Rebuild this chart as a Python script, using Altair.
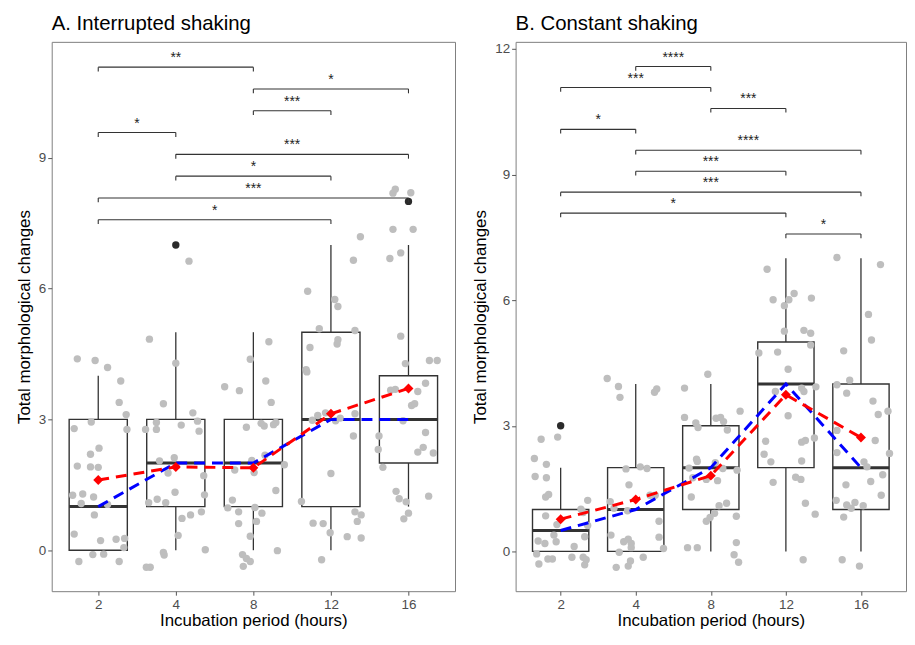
import altair as alt
import pandas as pd

FONT = "Liberation Sans"
hours = ["2", "4", "8", "12", "16"]

# ---------------- Panel A: interrupted shaking ----------------
a_q1 = [0, 1, 1, 1, 2]
a_med = [1, 2, 2, 3, 3]
a_q3 = [3, 3, 3, 5, 4]
a_lo = [0, 0, 0, 0, 1]
a_hi = [4, 5, 5, 7, 7]
a_mean = [1.61, 1.91, 1.89, 3.13, 3.71]
a_out_idx = [1, 4]
a_out_val = [7, 8]

A2_Y = [4.39, 4.35, 4.19, 3.88, 3.39, 3.11, 2.94, 2.79, 2.77, 2.34, 2.20, 1.93, 1.91, 1.90, 1.26,
        1.29, 1.22, 1.07, 1.05, 0.81, 0.37, 0.22, 0.25, 0.27, 0.06, -0.10, -0.09, -0.26, -0.26]
A2_DX = [-0.27, -0.04, 0.12, 0.29, 0.27, 0.36, -0.09, -0.31, 0.37, 0.01, -0.10, -0.27, -0.10, 0.0, -0.33,
         -0.20, -0.06, -0.22, 0.12, -0.05, -0.31, 0.03, 0.23, 0.34, 0.33, -0.07, 0.07, -0.25, 0.27]
A4_Y = [4.84, 6.63, 4.29, 3.36, 3.15, 2.93, 2.96, 2.87, 2.77, 2.77, 2.73, 2.05, 2.12, 1.77, 1.71,
        1.27, 1.33, 1.09, 1.17, 1.09, 0.88, 0.81, 0.73, 0.34, 0.01, -0.05, -0.11, -0.39, -0.39]
A4_DX = [-0.34, 0.17, 0.0, -0.16, 0.22, -0.25, 0.28, 0.07, -0.39, -0.25, 0.30, -0.21, -0.02, -0.10, 0.36,
         0.37, -0.01, -0.35, -0.24, -0.13, 0.33, 0.19, 0.08, 0.03, 0.38, -0.16, -0.15, -0.33, -0.38]
A8_Y = [4.78, 4.38, 3.88, 3.75, 3.66, 3.39, 2.82, 2.91, 2.85, 2.93, 2.88, 2.06, 1.84, 1.78, 1.96,
        2.18, 1.37, 1.15, 0.97, 0.88, 0.98, 0.85, 0.66, 0.61, 0.32, -0.01, -0.10, -0.19, -0.26, -0.37]
A8_DX = [0.20, -0.04, 0.16, -0.37, -0.18, 0.23, -0.09, 0.10, 0.14, 0.29, 0.26, -0.02, -0.24, 0.01, 0.40,
         0.15, 0.29, -0.27, -0.33, -0.19, 0.02, 0.11, 0.04, -0.19, -0.04, 0.31, -0.14, -0.09, -0.04, -0.13]
A12_Y = [7.19, 6.65, 5.94, 5.75, 5.59, 5.08, 5.04, 4.65, 4.83, 4.73, 4.14, 4.09, 2.98, 3.09, 3.15,
         2.97, 3.03, 3.13, 2.62, 1.76, 1.12, 0.88, 0.81, 0.66, 0.62, 0.61, 0.40, 0.31, 0.28, -0.22]
A12_DX = [0.38, 0.29, -0.30, 0.05, 0.09, -0.15, 0.31, -0.27, 0.09, 0.08, -0.32, -0.31, -0.24, -0.17, -0.07,
          0.06, 0.12, 0.31, 0.29, 0.0, -0.38, 0.31, 0.39, 0.34, -0.23, -0.10, -0.01, 0.21, 0.39, -0.12]
A16_Y = [8.28, 8.19, 8.20, 7.36, 7.36, 6.69, 6.82, 4.91, 4.28, 4.35, 4.35, 3.83, 3.67, 3.69, 3.64, 3.32,
         3.36, 2.97, 2.70, 2.62, 2.31, 2.36, 2.25, 2.23, 1.90, 1.35, 1.18, 1.11, 1.24, 0.85, 0.72]
A16_DX = [-0.17, -0.20, 0.03, -0.20, 0.06, -0.24, -0.10, -0.10, -0.04, 0.27, 0.37, 0.22, -0.23, -0.17, 0.12, 0.04,
          0.08, -0.07, 0.22, -0.38, -0.39, 0.19, 0.12, 0.32, -0.33, -0.16, -0.12, -0.03, 0.26, 0.0, -0.06]

a_br_from = [0, 2, 2, 0, 1, 1, 0, 0]
a_br_to = [2, 4, 3, 1, 4, 3, 4, 3]
a_br_y = [11.08, 10.58, 10.08, 9.58, 9.08, 8.58, 8.08, 7.58]
a_br_lab = ["**", "*", "***", "*", "***", "*", "***", "*"]

# ---------------- Panel B: constant shaking ----------------
b_q1 = [0, 0, 1, 2, 1]
b_med = [0.5, 1, 2, 4, 2]
b_q3 = [1, 2, 3, 5, 4]
b_lo = [0, 0, 0, 0, 0]
b_hi = [2, 4, 4, 7, 7]
b_mean = [0.77, 1.24, 1.81, 3.74, 2.72]
b_out_idx = [0]
b_out_val = [3]

B2_Y = [2.68, 2.73, 2.22, 2.08, 1.79, 1.76, 1.30, 1.36, 1.22, 1.01, 0.93, 0.85, 0.64, 0.62,
        0.39, 0.25, 0.19, 0.23, 0.12, 0.35, -0.06, -0.30, -0.18, -0.18, -0.14, -0.14, -0.32, -0.20]
B2_DX = [-0.26, -0.04, -0.35, -0.19, -0.34, -0.19, -0.20, -0.16, 0.36, 0.27, 0.30, -0.20, -0.05, 0.36,
         -0.09, -0.30, -0.21, -0.06, 0.18, 0.32, -0.32, -0.29, -0.17, -0.11, 0.15, 0.30, 0.32, 0.34]
B4_Y = [4.13, 3.94, 3.68, 3.88, 3.80, 1.97, 2.02, 1.98, 1.59, 1.19, 0.97, 1.34, 1.34, 0.72,
        0.39, 0.23, 0.29, 0.19, 0.09, 0.34, 0.07, -0.02, -0.14, -0.23, -0.35, -0.38, 1.03]
B4_DX = [-0.38, -0.23, -0.21, 0.28, 0.25, -0.13, 0.06, 0.15, -0.09, -0.34, -0.11, 0.19, 0.26, 0.31,
         -0.33, -0.16, -0.10, -0.06, -0.06, 0.31, 0.37, -0.22, 0.10, -0.07, -0.10, -0.26, -0.29]
B8_Y = [4.23, 3.90, 3.35, 3.20, 3.07, 2.96, 3.18, 3.20, 3.10, 2.90, 2.20, 2.15, 2.12, 1.99, 1.98, 1.94,
        1.76, 1.72, 1.69, 1.30, 1.09, 1.15, 0.84, 0.91, 0.81, 0.72, 0.21, 0.09, 0.09, -0.08, -0.26]
B8_DX = [-0.04, -0.35, 0.39, -0.35, -0.20, -0.17, 0.07, 0.13, 0.17, 0.22, -0.19, -0.18, 0.06, -0.29, 0.16, 0.35,
         -0.24, -0.06, 0.09, -0.26, 0.11, 0.21, 0.34, 0.05, -0.01, -0.06, 0.34, -0.31, -0.18, 0.31, 0.37]
B12_Y = [6.74, 6.01, 5.87, 6.01, 6.16, 6.05, 5.26, 5.28, 5.21, 4.93, 4.74, 4.76, 4.35, 3.82, 3.90, 3.82,
         3.93, 3.24, 2.63, 2.61, 2.65, 2.71, 2.32, 2.14, 2.16, 1.65, 1.77, 1.72, 1.15, 0.89, -0.20]
B12_DX = [-0.25, -0.17, -0.02, 0.04, 0.11, 0.34, -0.02, 0.24, 0.33, 0.33, -0.36, -0.11, 0.03, -0.14, 0.21, 0.24,
          0.40, 0.03, -0.27, 0.21, 0.26, 0.38, -0.29, -0.20, 0.21, -0.17, 0.13, 0.20, 0.26, 0.39, 0.23]
B16_Y = [7.02, 6.85, 5.66, 5.05, 4.79, 4.09, 3.98, 3.78, 3.59, 3.27, 3.35, 2.89, 2.65, 2.36, 2.34,
         2.14, 2.02, 1.83, 1.59, 1.67, 1.34, 1.22, 1.11, 1.03, 1.17, 1.09, 0.82, -0.20, -0.35]
B16_DX = [-0.32, 0.26, 0.10, 0.14, -0.23, -0.15, -0.32, -0.19, 0.16, 0.23, 0.36, -0.32, 0.19, -0.32, 0.38,
          0.04, 0.08, 0.29, -0.20, 0.13, 0.27, -0.33, -0.19, -0.13, -0.08, 0.03, -0.23, -0.25, -0.02]

b_br_from = [1, 0, 2, 0, 1, 1, 0, 0, 3]
b_br_to = [2, 2, 3, 1, 4, 3, 4, 3, 4]
b_br_y = [11.58, 11.08, 10.58, 10.08, 9.58, 9.08, 8.58, 8.08, 7.58]
b_br_lab = ["****", "***", "***", "*", "****", "***", "***", "*", "*"]

# ---------------- style ----------------
BOX_HALF = 0.375
TIP = 0.1
DASH = [11, 7]
LINE_C = "#333333"
label_expr = "[" + ",".join("'%s'" % h for h in hours) + "][datum.value]"


def build_points(ys, dxs):
    rows = []
    for i, (yl, dl) in enumerate(zip(ys, dxs)):
        for v, d in zip(yl, dl):
            rows.append({"idx": i, "dx": d, "v": v})
    return pd.DataFrame(rows)


def panel(title, q1, med, q3, lo, hi, mean, out_idx, out_val, pts, br_from, br_to, br_y, br_lab,
          ydom, yvals, width):
    xs = alt.Scale(domain=[-0.6, 4.6], nice=False, zero=False)
    ys = alt.Scale(domain=ydom, nice=False, zero=False)
    xax = alt.Axis(values=[0, 1, 2, 3, 4], labelExpr=label_expr, title="Incubation period (hours)",
                   grid=False, domain=False, titlePadding=2)
    yax = alt.Axis(values=yvals, title="Total morphological changes", grid=False, domain=False,
                   titlePadding=5)

    def X(f):
        return alt.X(f, type="quantitative", scale=xs, axis=xax)

    def Y(f):
        return alt.Y(f, type="quantitative", scale=ys, axis=yax)

    box_df = pd.DataFrame({"idx": list(range(5)), "q1": q1, "med": med, "q3": q3,
                           "lo": lo, "hi": hi, "mean": mean})
    base = alt.Chart(box_df)
    boxc = base.transform_calculate(xl="datum.idx - %f" % BOX_HALF, xr="datum.idx + %f" % BOX_HALF)

    wl = base.mark_rule(color=LINE_C, strokeWidth=1.3).encode(x=X("idx"), y=Y("lo"), y2="q1")
    wh = base.mark_rule(color=LINE_C, strokeWidth=1.3).encode(x=X("idx"), y=Y("q3"), y2="hi")
    box = boxc.mark_rect(fill="white", stroke=LINE_C, strokeWidth=1.4).encode(
        x=X("xl"), x2="xr", y=Y("q1"), y2="q3")
    medr = boxc.mark_rule(color=LINE_C, strokeWidth=3).encode(x=X("xl"), x2="xr", y=Y("med"))

    points = alt.Chart(pts).transform_calculate(x="datum.idx + datum.dx").mark_circle(
        color="#bebebe", size=55, opacity=1).encode(x=X("x"), y=Y("v"))
    out_df = pd.DataFrame({"idx": out_idx, "v": out_val})
    outl = alt.Chart(out_df).mark_circle(color="#2b2b2b", size=55, opacity=1).encode(
        x=X("idx"), y=Y("v"))

    blue = base.mark_line(color="#0000ff", strokeWidth=3, strokeDash=DASH).encode(x=X("idx"), y=Y("med"))
    red = base.mark_line(color="#ff0000", strokeWidth=3, strokeDash=DASH).encode(x=X("idx"), y=Y("mean"))
    dia = base.mark_point(shape="diamond", filled=True, color="#ff0000", size=100, opacity=1).encode(
        x=X("idx"), y=Y("mean"))

    br_df = pd.DataFrame({"a": br_from, "b": br_to, "y": br_y, "lab": br_lab})
    brc = alt.Chart(br_df)
    hl = brc.mark_rule(color=LINE_C, strokeWidth=1.1).encode(x=X("a"), x2="b", y=Y("y"))
    tips = brc.transform_fold(["a", "b"], as_=["end", "xe"]).transform_calculate(
        yb="datum.y - %f" % TIP).mark_rule(color=LINE_C, strokeWidth=1.1).encode(
        x=X("xe"), y=Y("y"), y2="yb")
    stars = brc.transform_calculate(mid="(datum.a + datum.b) / 2").mark_text(
        font=FONT, fontSize=14, baseline="alphabetic", dy=-5, color="#222222").encode(
        x=X("mid"), y=Y("y"), text="lab:N")

    return alt.layer(wl, wh, box, medr, points, outl, blue, red, dia, hl, tips, stars).properties(
        width=width, height=553,
        title=alt.Title(title, anchor="start", frame="group", fontSize=20.5, font=FONT,
                        fontWeight="normal", color="black", offset=7.5))


a_pts = build_points([A2_Y, A4_Y, A8_Y, A12_Y, A16_Y], [A2_DX, A4_DX, A8_DX, A12_DX, A16_DX])
b_pts = build_points([B2_Y, B4_Y, B8_Y, B12_Y, B16_Y], [B2_DX, B4_DX, B8_DX, B12_DX, B16_DX])

pa = panel("A. Interrupted shaking", a_q1, a_med, a_q3, a_lo, a_hi, a_mean, a_out_idx, a_out_val, a_pts,
           a_br_from, a_br_to, a_br_y, a_br_lab, [-0.94, 11.66], [0, 3, 6, 9], 406)
pb = panel("B. Constant shaking", b_q1, b_med, b_q3, b_lo, b_hi, b_mean, b_out_idx, b_out_val, b_pts,
           b_br_from, b_br_to, b_br_y, b_br_lab, [-0.95, 12.17], [0, 3, 6, 9, 12], 393)

chart = alt.hconcat(pa, pb, spacing=15).properties(
    padding={"left": 6, "top": 3, "right": 0, "bottom": 0},
    background="white",
).configure_view(
    stroke="#7f7f7f", strokeWidth=1
).configure_axis(
    labelFont=FONT, labelFontSize=13.5, labelColor="#4d4d4d", labelPadding=2,
    titleFont=FONT, titleFontSize=17, titleColor="black", titleFontWeight="normal",
    tickColor="#555555", tickSize=4, tickWidth=1
)

chart.save("out.html", embed_options={"renderer": "svg", "actions": False})
